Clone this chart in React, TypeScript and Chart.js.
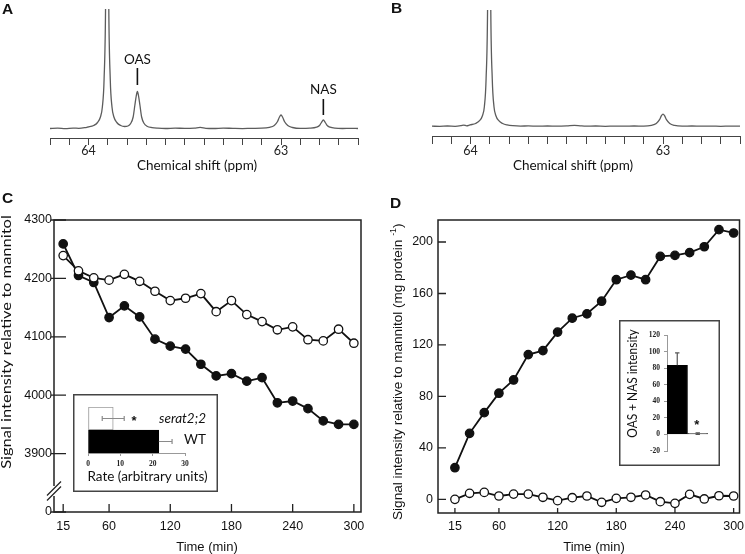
import React, { useEffect, useRef } from 'react';
import { Chart, registerables } from 'chart.js';

Chart.register(...registerables);

// ---------------- data ----------------
// NMR spectra (chemical shift in ppm, intensity in arbitrary units)
const PPM_MIN = 62.6;
const PPM_MAX = 64.2;
const PPM_TICKS = [64.2, 64.1, 64.0, 63.9, 63.8, 63.7, 63.6, 63.5, 63.4, 63.3, 63.2, 63.1, 63.0, 62.9, 62.8, 62.7, 62.6];
const PPM_LABEL_VALUES = [64, 63];
const PPM_LABELS = ['64', '63'];

const SPEC_A_PPM = [64.2, 64.16, 64.12, 64.08, 64.05, 64.02, 64.003, 63.973, 63.953, 63.938, 63.928, 63.919, 63.911, 63.903, 63.895, 63.887, 63.878, 63.868, 63.853, 63.833, 63.813, 63.795, 63.781, 63.768, 63.759, 63.752, 63.746, 63.74, 63.733, 63.724, 63.711, 63.696, 63.67, 63.64, 63.6, 63.55, 63.5, 63.45, 63.42, 63.39, 63.35, 63.3, 63.25, 63.2, 63.15, 63.1, 63.06, 63.035, 63.018, 63.008, 63.0, 62.992, 62.982, 62.965, 62.94, 62.9, 62.85, 62.815, 62.8, 62.79, 62.78, 62.77, 62.76, 62.745, 62.72, 62.68, 62.64, 62.6];
const SPEC_A_INT = [0.5, 0.8, 0.4, 0.9, 0.7, 1.3, 2.0, 3.5, 6.5, 12, 22, 50, 130, 420, 130, 50, 22, 12, 6.5, 3.5, 2.5, 3.0, 5.5, 12, 24, 33, 37.5, 33, 24, 12, 5.5, 2.8, 1.4, 0.8, 0.5, 0.9, 0.6, 0.9, 1.6, 0.7, 0.5, 0.9, 0.6, 0.4, 0.7, 0.8, 1.6, 3.5, 7.5, 12, 14, 12, 7.5, 3.5, 1.5, 0.6, 0.8, 1.8, 3.5, 6.5, 9, 6.5, 3.5, 1.8, 0.8, 0.5, 0.7, 0.5];

const SPEC_B_PPM = [64.2, 64.16, 64.12, 64.08, 64.05, 64.035, 64.02, 64.003, 63.973, 63.953, 63.938, 63.928, 63.919, 63.911, 63.903, 63.895, 63.887, 63.878, 63.868, 63.853, 63.833, 63.81, 63.78, 63.74, 63.7, 63.65, 63.6, 63.55, 63.5, 63.46, 63.43, 63.4, 63.35, 63.3, 63.25, 63.2, 63.15, 63.1, 63.06, 63.035, 63.018, 63.008, 63.0, 62.992, 62.982, 62.965, 62.94, 62.9, 62.85, 62.8, 62.75, 62.7, 62.65, 62.6];
const SPEC_B_INT = [0.5, 0.4, 0.7, 0.4, 1.0, 1.6, 0.9, 1.8, 3.2, 6, 11, 20, 48, 125, 420, 125, 48, 20, 11, 6, 3.2, 1.8, 1.0, 0.6, 0.8, 0.5, 0.7, 0.5, 0.8, 1.3, 0.9, 0.6, 0.7, 0.4, 0.6, 0.5, 0.7, 0.6, 1.4, 3.2, 7, 11, 12.5, 11, 7, 3.2, 1.3, 0.6, 0.7, 0.5, 0.6, 0.4, 0.6, 0.5];

// Time courses (min)
const TIMES = [15, 30, 45, 60, 75, 90, 105, 120, 135, 150, 165, 180, 195, 210, 225, 240, 255, 270, 285, 300];
const X_TICKS = [15, 60, 120, 180, 240, 300];

// Panel C: signal intensity relative to mannitol
const C_WT = [4259, 4205, 4193, 4133, 4153, 4134, 4096, 4084, 4079, 4053, 4033, 4037, 4024, 4030, 3987, 3990, 3977, 3956, 3950, 3950];
const C_SERAT = [4239, 4213, 4201, 4197, 4207, 4195, 4178, 4162, 4166, 4174, 4143, 4162, 4138, 4126, 4112, 4117, 4095, 4093, 4113, 4089];
const C_Y_TICKS = [3800, 3900, 4000, 4100, 4200, 4300];
const C_Y_LABELS = ['0', '3900', '4000', '4100', '4200', '4300'];
const C_BREAK_VALUE = 3836;

// Panel D: signal intensity relative to mannitol per mg protein
const D_WT = [24.6, 51.3, 67.4, 82.5, 92.8, 112.5, 115.6, 130, 140.8, 144.2, 154, 170.7, 174.3, 170.7, 188.8, 189.6, 191.7, 196.3, 209.6, 207];
const D_SERAT = [0, 4.7, 5.4, 2.6, 4.1, 4.1, 1.6, -1, 1.3, 2.6, -2.3, 0.8, 1.6, 3.4, -1.8, -3.1, 3.9, 0.3, 2.8, 2.6];
const D_Y_TICKS = [0, 40, 80, 120, 160, 200];

// Inset C: rate
const RATE_CATS = ['serat2;2', 'WT'];
const RATE = [7.8, 21.9];
const RATE_ERR = [3.4, 4.1];
const RATE_TICKS = [0, 10, 20, 30];

// Inset D: OAS + NAS intensity
const OASNAS_CATS = ['WT', 'serat2;2'];
const OASNAS = [83.5, 1];
const OASNAS_ERR = [15, 1];
const OASNAS_TICKS = [-20, 0, 20, 40, 60, 80, 100, 120];

// ---------------- helpers ----------------
const LATO = 'Lato';
const ARIAL = "'Liberation Sans'";
const SERIF = "'Liberation Serif'";

type Seg = { t: string; font: string; dy?: number };
type TextItem = {
  segs: Seg[];
  x: number;
  y: number;
  vx?: boolean;
  vy?: boolean;
  rot?: number;
  sx?: number;
  align?: 'left' | 'center' | 'right';
  color?: string;
};
type LineItem = { x1: number; y1: number; x2: number; y2: number; vx?: boolean; vy?: boolean; color?: string; width?: number };

function tx(text: string, x: number, y: number, font: string, extra: Partial<TextItem> = {}): TextItem {
  return { segs: [{ t: text, font }], x, y, align: 'center', ...extra };
}

function annotPlugin(texts: TextItem[], lines: LineItem[] = []) {
  return {
    id: 'annot',
    afterDraw(chart: any) {
      const ctx = chart.ctx as CanvasRenderingContext2D;
      const px = (v: number, on: boolean | undefined, s: any) => (on ? s.getPixelForValue(v) : v);
      ctx.save();
      for (const l of lines) {
        ctx.beginPath();
        ctx.strokeStyle = l.color || '#111';
        ctx.lineWidth = l.width || 1;
        ctx.moveTo(px(l.x1, l.vx, chart.scales.x), px(l.y1, l.vy, chart.scales.y));
        ctx.lineTo(px(l.x2, l.vx, chart.scales.x), px(l.y2, l.vy, chart.scales.y));
        ctx.stroke();
      }
      for (const it of texts) {
        const X = px(it.x, it.vx, chart.scales.x);
        const Y = px(it.y, it.vy, chart.scales.y);
        ctx.save();
        ctx.translate(X, Y);
        if (it.rot) ctx.rotate(it.rot);
        if (it.sx) ctx.scale(it.sx, 1);
        ctx.fillStyle = it.color || '#111';
        ctx.textBaseline = 'middle';
        ctx.textAlign = 'left';
        let total = 0;
        for (const s of it.segs) {
          ctx.font = s.font;
          total += ctx.measureText(s.t).width;
        }
        let x0 = it.align === 'right' ? -total : it.align === 'left' ? 0 : -total / 2;
        for (const s of it.segs) {
          ctx.font = s.font;
          ctx.fillText(s.t, x0, s.dy || 0);
          x0 += ctx.measureText(s.t).width;
        }
        ctx.restore();
      }
      ctx.restore();
    },
  };
}

function framePlugin(color: string, width: number, brk?: { value: number; gap: number; half: number; sep: number }) {
  return {
    id: 'frame',
    afterDraw(chart: any) {
      const { ctx, chartArea: a } = chart;
      ctx.save();
      ctx.strokeStyle = color;
      ctx.lineWidth = width;
      ctx.beginPath();
      if (brk) {
        const yb = chart.scales.y.getPixelForValue(brk.value);
        ctx.moveTo(a.left, yb - brk.gap);
        ctx.lineTo(a.left, a.top);
        ctx.lineTo(a.right, a.top);
        ctx.lineTo(a.right, a.bottom);
        ctx.lineTo(a.left, a.bottom);
        ctx.lineTo(a.left, yb + brk.gap);
        ctx.stroke();
        ctx.lineWidth = 1.2;
        for (const d of [-brk.sep / 2, brk.sep / 2]) {
          ctx.beginPath();
          ctx.moveTo(a.left - brk.half, yb + d + brk.half);
          ctx.lineTo(a.left + brk.half, yb + d - brk.half);
          ctx.stroke();
        }
      } else {
        ctx.rect(a.left, a.top, a.right - a.left, a.bottom - a.top);
        ctx.stroke();
      }
      ctx.restore();
    },
  };
}

function tickPlugin(o: { xIn: number; xOut: number; yIn: number; yOut: number; color: string; width: number }) {
  return {
    id: 'inticks',
    afterDraw(chart: any) {
      const { ctx, chartArea: a, scales } = chart;
      ctx.save();
      ctx.strokeStyle = o.color;
      ctx.lineWidth = o.width;
      ctx.beginPath();
      for (const t of scales.x.ticks) {
        const p = scales.x.getPixelForValue(t.value);
        ctx.moveTo(p, a.bottom + o.xOut);
        ctx.lineTo(p, a.bottom - o.xIn);
      }
      for (const t of scales.y.ticks) {
        const p = scales.y.getPixelForValue(t.value);
        ctx.moveTo(a.left - o.yOut, p);
        ctx.lineTo(a.left + o.yIn, p);
      }
      ctx.stroke();
      ctx.restore();
    },
  };
}

function errPlugin(vals: number[], errs: number[], minus: boolean[], horizontal: boolean, color: string, width: number, cap: number) {
  return {
    id: 'errbars',
    afterDatasetsDraw(chart: any) {
      const { ctx } = chart;
      const meta = chart.getDatasetMeta(0);
      const vs = horizontal ? chart.scales.x : chart.scales.y;
      ctx.save();
      ctx.strokeStyle = color;
      ctx.lineWidth = width;
      ctx.beginPath();
      meta.data.forEach((el: any, i: number) => {
        const c = horizontal ? el.y : el.x;
        const lo = vs.getPixelForValue(minus[i] ? vals[i] - errs[i] : vals[i]);
        const hi = vs.getPixelForValue(vals[i] + errs[i]);
        if (horizontal) {
          ctx.moveTo(lo, c);
          ctx.lineTo(hi, c);
          ctx.moveTo(hi, c - cap);
          ctx.lineTo(hi, c + cap);
          if (minus[i]) {
            ctx.moveTo(lo, c - cap);
            ctx.lineTo(lo, c + cap);
          }
        } else {
          ctx.moveTo(c, lo);
          ctx.lineTo(c, hi);
          ctx.moveTo(c - cap, hi);
          ctx.lineTo(c + cap, hi);
          if (minus[i]) {
            ctx.moveTo(c - cap, lo);
            ctx.lineTo(c + cap, lo);
          }
        }
      });
      ctx.stroke();
      ctx.restore();
    },
  };
}

function boxPlugin(color: string, width: number) {
  return {
    id: 'boxbg',
    beforeDraw(chart: any) {
      const { ctx, width: w, height: h } = chart;
      ctx.save();
      ctx.fillStyle = '#fff';
      ctx.fillRect(0, 0, w, h);
      ctx.strokeStyle = color;
      ctx.lineWidth = width;
      ctx.strokeRect(width / 2, width / 2, w - width, h - width);
      ctx.restore();
    },
  };
}

const base = {
  responsive: false,
  animation: false as const,
  devicePixelRatio: 1,
  events: [] as any[],
  plugins: { legend: { display: false }, tooltip: { enabled: false } },
};

// ---------------- configs ----------------
function spectrumConfig(
  ppm: number[],
  inten: number[],
  o: { padL: number; padR: number; padT: number; axisH: number; yMin: number; yMax: number; tickLen: number; tickPad: number; texts: TextItem[]; lines: LineItem[] }
) {
  return {
    type: 'line',
    data: {
      datasets: [
        {
          data: ppm.map((x, i) => ({ x, y: inten[i] })),
          borderColor: '#5c5c5c',
          borderWidth: 1.3,
          pointRadius: 0,
          cubicInterpolationMode: 'monotone',
          fill: false,
        },
      ],
    },
    options: {
      ...base,
      layout: { padding: { left: o.padL, right: o.padR, top: o.padT, bottom: 0 } },
      scales: {
        x: {
          type: 'linear',
          reverse: true,
          min: PPM_MIN,
          max: PPM_MAX,
          afterBuildTicks: (s: any) => {
            s.ticks = PPM_TICKS.map((v) => ({ value: v }));
          },
          afterFit: (s: any) => {
            s.height = o.axisH;
            s.paddingLeft = 0;
            s.paddingRight = 0;
          },
          ticks: {
            autoSkip: false,
            maxRotation: 0,
            padding: o.tickPad,
            color: '#222',
            font: { family: LATO, size: 12.5, lineHeight: 1 },
            callback: (v: number) => {
              const i = PPM_LABEL_VALUES.findIndex((l) => Math.abs(l - v) < 1e-6);
              return i >= 0 ? PPM_LABELS[i] : '';
            },
          },
          grid: { display: true, drawOnChartArea: false, drawTicks: true, tickLength: o.tickLen, color: '#444', lineWidth: 1 },
          border: { display: true, color: '#444', width: 1 },
        },
        y: { display: false, min: o.yMin, max: o.yMax },
      },
    },
    plugins: [annotPlugin(o.texts, o.lines)],
  };
}

const letterFont = `bold 15.5px ${ARIAL}`;

const configA = () =>
  spectrumConfig(SPEC_A_PPM, SPEC_A_INT, {
    padL: 50,
    padR: 12,
    padT: 9,
    axisH: 37,
    yMin: -9,
    yMax: 120,
    tickLen: 7,
    tickPad: 0,
    texts: [
      tx('A', 7.5, 10, letterFont),
      tx('OAS', 63.746, 69, `13.5px ${LATO}`, { vx: true, vy: true }),
      tx('NAS', 62.78, 39.5, `13.5px ${LATO}`, { vx: true, vy: true }),
      tx('Chemical shift (ppm)', 197, 166, `13.5px ${LATO}`),
    ],
    lines: [
      { x1: 63.746, y1: 61, x2: 63.746, y2: 44, vx: true, vy: true, width: 1.6, color: '#111' },
      { x1: 62.78, y1: 30, x2: 62.78, y2: 14, vx: true, vy: true, width: 1.6, color: '#111' },
    ],
  });

const configB = () =>
  spectrumConfig(SPEC_B_PPM, SPEC_B_INT, {
    padL: 62,
    padR: 5,
    padT: 10,
    axisH: 39,
    yMin: -9.3,
    yMax: 116.7,
    tickLen: 8,
    tickPad: 1,
    texts: [tx('B', 26.5, 9, letterFont), tx('Chemical shift (ppm)', 203, 166, `13.5px ${LATO}`)],
    lines: [],
  });

function seriesDs(ys: number[], filled: boolean) {
  return {
    data: TIMES.map((x, i) => ({ x, y: ys[i] })),
    showLine: true,
    borderColor: '#111',
    borderWidth: 1.8,
    pointRadius: 4.2,
    pointBackgroundColor: filled ? '#111' : '#fff',
    pointBorderColor: '#111',
    pointBorderWidth: 1.3,
  };
}

const tickFont = { family: ARIAL, size: 12.5, lineHeight: 1 };

const configC = () => ({
  type: 'scatter',
  data: { datasets: [seriesDs(C_SERAT, false), seriesDs(C_WT, true)] },
  options: {
    ...base,
    layout: { padding: { left: 0, right: 9, top: 40, bottom: 0 } },
    scales: {
      x: {
        type: 'linear',
        min: 6,
        max: 307,
        afterBuildTicks: (s: any) => {
          s.ticks = X_TICKS.map((v) => ({ value: v }));
        },
        afterFit: (s: any) => {
          s.height = 42;
          s.paddingLeft = 0;
          s.paddingRight = 0;
        },
        ticks: { autoSkip: false, maxRotation: 0, padding: 8.75, color: '#111', font: tickFont },
        grid: { display: false, drawTicks: false },
        border: { display: false },
      },
      y: {
        type: 'linear',
        min: 3800,
        max: 4300,
        afterBuildTicks: (s: any) => {
          s.ticks = C_Y_TICKS.map((v) => ({ value: v }));
        },
        afterFit: (s: any) => {
          s.width = 54;
          s.paddingTop = 0;
          s.paddingBottom = 0;
        },
        ticks: { autoSkip: false, padding: 2, color: '#111', font: tickFont, callback: (_v: number, i: number) => C_Y_LABELS[i] },
        grid: { display: false, drawTicks: false },
        border: { display: false },
      },
    },
  },
  plugins: [
    framePlugin('#222', 1.5, { value: C_BREAK_VALUE, gap: 5, half: 7, sep: 5 }),
    tickPlugin({ xIn: 8, xOut: 0, yIn: 12, yOut: 3, color: '#222', width: 1.3 }),
    annotPlugin([
      tx('C', 7.5, 18.5, letterFont),
      tx('Signal intensity relative to mannitol', 7, 162, `13.5px ${LATO}`, { rot: -Math.PI / 2, sx: 1.22 }),
      tx('Time (min)', 207, 367, `13px ${ARIAL}`),
    ]),
  ],
});

const configD = () => ({
  type: 'scatter',
  data: { datasets: [seriesDs(D_SERAT, false), seriesDs(D_WT, true)] },
  options: {
    ...base,
    layout: { padding: { left: 0, right: 4, top: 40, bottom: 0 } },
    scales: {
      x: {
        type: 'linear',
        min: -2.3,
        max: 306,
        afterBuildTicks: (s: any) => {
          s.ticks = X_TICKS.map((v) => ({ value: v }));
        },
        afterFit: (s: any) => {
          s.height = 41;
          s.paddingLeft = 0;
          s.paddingRight = 0;
        },
        ticks: { autoSkip: false, maxRotation: 0, padding: 7.75, color: '#111', font: tickFont },
        grid: { display: false, drawTicks: false },
        border: { display: false },
      },
      y: {
        type: 'linear',
        min: -10.6,
        max: 217.1,
        afterBuildTicks: (s: any) => {
          s.ticks = D_Y_TICKS.map((v) => ({ value: v }));
        },
        afterFit: (s: any) => {
          s.width = 68;
          s.paddingTop = 0;
          s.paddingBottom = 0;
        },
        ticks: { autoSkip: false, padding: 5, color: '#111', font: tickFont },
        grid: { display: false, drawTicks: false },
        border: { display: false },
      },
    },
  },
  plugins: [
    framePlugin('#222', 1.5),
    tickPlugin({ xIn: 5, xOut: 0, yIn: 8, yOut: 0, color: '#222', width: 1.3 }),
    annotPlugin([
      tx('D', 25.5, 24, letterFont),
      {
        segs: [
          { t: 'Signal intensity relative to mannitol (mg protein ', font: `13px ${ARIAL}` },
          { t: '-1', font: `8.5px ${ARIAL}`, dy: -4.5 },
          { t: ')', font: `13px ${ARIAL}` },
        ],
        x: 28,
        y: 191.7,
        rot: -Math.PI / 2,
        sx: 1.04,
        align: 'center',
      },
      tx('Time (min)', 224, 367, `13px ${ARIAL}`),
    ]),
  ],
});

const smallTickFont = { family: SERIF, size: 7.5, weight: 'bold' as const, lineHeight: 1 };

const configCInset = () => ({
  type: 'bar',
  data: {
    labels: RATE_CATS,
    datasets: [
      {
        data: RATE,
        backgroundColor: ['#ffffff', '#000000'],
        borderColor: ['#9a9a9a', '#000000'],
        borderWidth: 1,
        borderSkipped: false,
        barPercentage: 1,
        categoryPercentage: 1,
      },
    ],
  },
  options: {
    ...base,
    indexAxis: 'y',
    layout: { padding: { left: 15, right: 33, top: 13, bottom: 0 } },
    scales: {
      x: {
        type: 'linear',
        min: 0,
        max: 30,
        afterBuildTicks: (s: any) => {
          s.ticks = RATE_TICKS.map((v) => ({ value: v }));
        },
        afterFit: (s: any) => {
          s.height = 39;
          s.paddingLeft = 0;
          s.paddingRight = 0;
        },
        ticks: { autoSkip: false, maxRotation: 0, padding: 4.5, color: '#222', font: smallTickFont },
        grid: { display: true, drawOnChartArea: false, tickLength: 3, color: '#999' },
        border: { display: true, color: '#999', width: 1 },
      },
      y: { type: 'category', display: false },
    },
  },
  plugins: [
    boxPlugin('#444', 1.5),
    errPlugin(RATE, RATE_ERR, [true, false], true, '#8a8a8a', 1.2, 2.5),
    annotPlugin([
      tx('*', 61, 27.5, `bold 13px ${ARIAL}`),
      tx('serat2;2', 133, 25, `italic 13.5px ${LATO}`, { align: 'right' }),
      tx('WT', 133, 46, `13.5px ${LATO}`, { align: 'right' }),
      tx('Rate (arbitrary units)', 74.5, 83, `13.5px ${LATO}`),
    ]),
  ],
});

const configDInset = () => ({
  type: 'bar',
  data: {
    labels: OASNAS_CATS,
    datasets: [
      {
        data: OASNAS,
        backgroundColor: '#000000',
        borderColor: '#000000',
        borderWidth: 1,
        borderSkipped: false,
        barPercentage: 1,
        categoryPercentage: 1,
      },
    ],
  },
  options: {
    ...base,
    layout: { padding: { left: 0, right: 12, top: 15, bottom: 15 } },
    scales: {
      x: { type: 'category', display: false },
      y: {
        type: 'linear',
        min: -20,
        max: 120,
        afterBuildTicks: (s: any) => {
          s.ticks = OASNAS_TICKS.map((v) => ({ value: v }));
        },
        afterFit: (s: any) => {
          s.width = 48;
          s.paddingTop = 0;
          s.paddingBottom = 0;
        },
        ticks: { autoSkip: false, padding: 4, color: '#222', font: smallTickFont },
        grid: { display: true, drawOnChartArea: false, tickLength: 3, color: '#999' },
        border: { display: true, color: '#999', width: 1 },
      },
    },
  },
  plugins: [
    boxPlugin('#444', 1.5),
    errPlugin(OASNAS, OASNAS_ERR, [false, true], false, '#555', 1.2, 2.2),
    annotPlugin([
      tx('*', 77.7, 105.5, `bold 13px ${ARIAL}`),
      tx('OAS + NAS intensity', 14, 63.5, `13.5px ${LATO}`, { rot: -Math.PI / 2, sx: 0.88 }),
    ]),
  ],
});

// ---------------- components ----------------
function ChartBox({ x, y, w, h, config }: { x: number; y: number; w: number; h: number; config: () => any }) {
  const ref = useRef<HTMLCanvasElement>(null);
  useEffect(() => {
    const chart = new Chart(ref.current as HTMLCanvasElement, config());
    return () => chart.destroy();
  }, []);
  return <canvas ref={ref} width={w} height={h} style={{ position: 'absolute', left: x, top: y, width: w, height: h }} />;
}

export default function App() {
  return (
    <div style={{ position: 'fixed', left: 0, top: 0, width: 745, height: 554, background: '#fff', overflow: 'hidden' }}>
      <ChartBox x={0} y={0} w={370} h={175} config={configA} />
      <ChartBox x={370} y={0} w={375} h={175} config={configB} />
      <ChartBox x={0} y={180} w={370} h={374} config={configC} />
      <ChartBox x={370} y={180} w={375} h={374} config={configD} />
      <ChartBox x={73} y={394} w={145} h={98} config={configCInset} />
      <ChartBox x={619} y={320} w={101} h={146} config={configDInset} />
    </div>
  );
}
